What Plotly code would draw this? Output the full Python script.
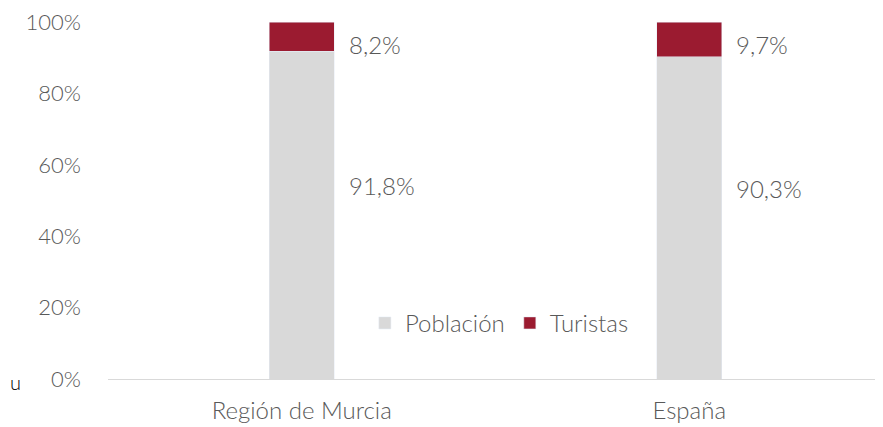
import plotly.graph_objects as go

categories = ["Región de Murcia", "España"]
poblacion = [91.8, 90.3]
turistas = [8.2, 9.7]
poblacion_labels = ["91,8%", "90,3%"]
turistas_labels = ["8,2%", "9,7%"]
y_ticks = [0, 20, 40, 60, 80, 100]
y_tick_labels = ["0%", "20%", "40%", "60%", "80%", "100%"]

GREY = "#D9D9D9"
RED = "#9B1B30"
TXT = "#595959"
FONT = "Lato"
FS = 24

fig = go.Figure()
fig.add_trace(go.Bar(x=categories, y=poblacion, name="Población", marker_color=GREY))
fig.add_trace(go.Bar(x=categories, y=turistas, name="Turistas", marker_color=RED))

for i, c in enumerate(categories):
    fig.add_annotation(x=c, y=poblacion[i] * 0.59, text=poblacion_labels[i], showarrow=False,
                       xanchor="left", xshift=45, font=dict(size=FS, color=TXT, family=FONT))
    fig.add_annotation(x=c, y=93.6, text=turistas_labels[i], showarrow=False,
                       xanchor="left", xshift=45, font=dict(size=FS, color=TXT, family=FONT))

fig.add_annotation(xref="paper", yref="paper", x=-100 / 775, y=-3 / 357, text="u", showarrow=False,
                   xanchor="left", yanchor="middle", font=dict(size=20, color="#000000", family=FONT))

fig.update_layout(
    barmode="stack",
    bargap=0.832,
    width=875, height=419,
    margin=dict(l=100, r=0, t=14, b=48, autoexpand=False),
    paper_bgcolor="white", plot_bgcolor="white",
    font=dict(family=FONT, size=FS, color=TXT, weight=300),
    showlegend=True,
    legend=dict(orientation="h", x=0.505, y=0.156, xanchor="center", yanchor="middle",
                traceorder="normal",
                font=dict(size=FS, color=TXT), bgcolor="rgba(0,0,0,0)", itemwidth=30, tracegroupgap=0),
    xaxis=dict(showline=True, linecolor=GREY, linewidth=1, showgrid=False, ticks="",
               automargin=False, ticklabelstandoff=10, tickfont=dict(size=FS, color=TXT)),
    yaxis=dict(range=[0, 100], tickvals=y_ticks, ticktext=y_tick_labels, showgrid=False,
               zeroline=False, showline=False, ticks="", ticklabelstandoff=26, automargin=False,
               ticklabeloverflow="allow", tickfont=dict(size=22, color=TXT)),
)

fig.write_html("out.html")
